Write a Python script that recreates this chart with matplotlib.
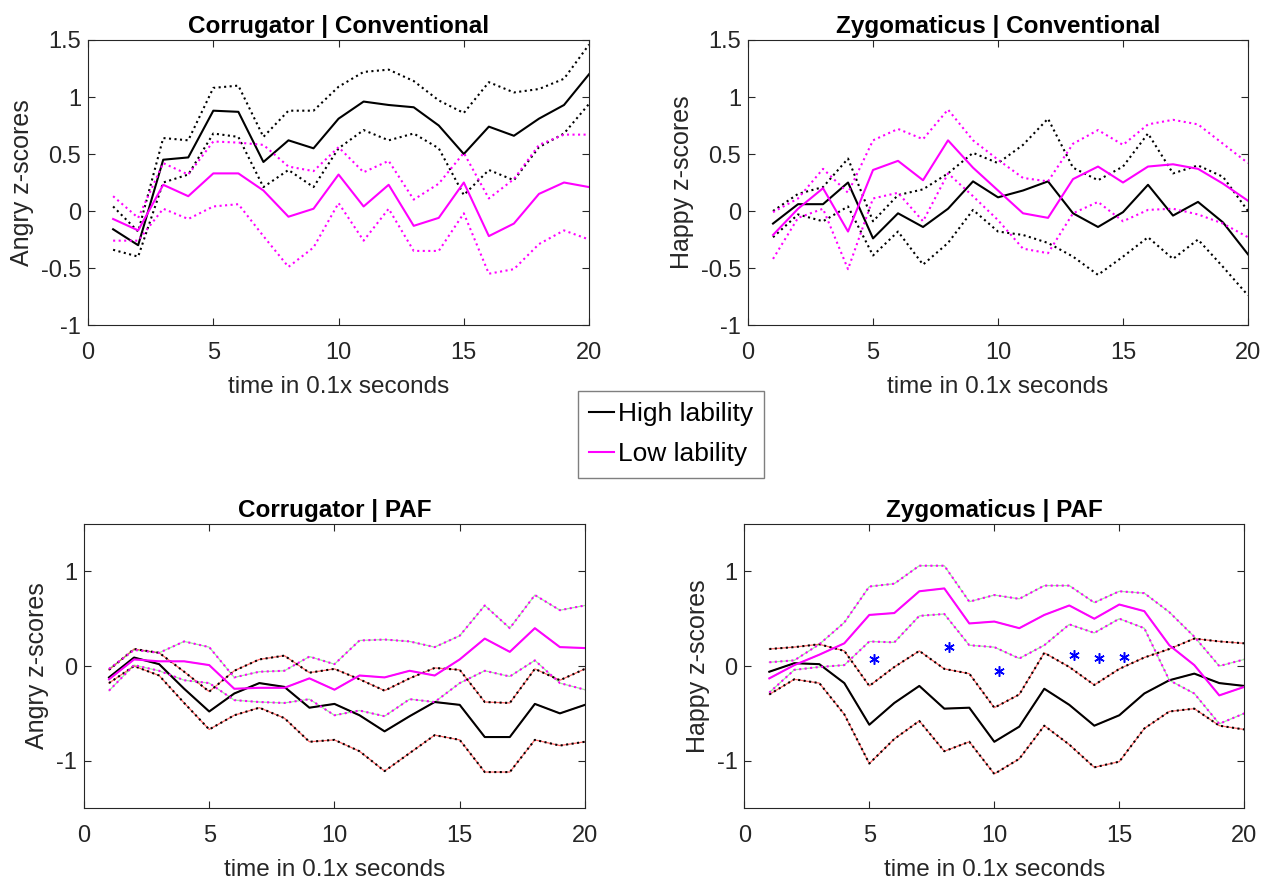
import matplotlib.pyplot as plt
import numpy as np

plt.rcParams['font.family'] = ['Liberation Sans', 'DejaVu Sans']
plt.rcParams['axes.unicode_minus'] = False

t = np.arange(1, 21)

# Corrugator | Conventional
cc_high = [-0.16, -0.30, 0.45, 0.47, 0.88, 0.87, 0.43, 0.62, 0.55, 0.81,
           0.96, 0.93, 0.91, 0.75, 0.50, 0.74, 0.66, 0.81, 0.93, 1.20]
cc_high_up = [0.04, -0.18, 0.64, 0.62, 1.08, 1.10, 0.65, 0.88, 0.88, 1.09,
              1.22, 1.24, 1.14, 0.97, 0.86, 1.13, 1.04, 1.07, 1.16, 1.46]
cc_high_lo = [-0.34, -0.40, 0.25, 0.32, 0.68, 0.65, 0.21, 0.36, 0.21, 0.55,
              0.71, 0.62, 0.68, 0.55, 0.14, 0.36, 0.27, 0.56, 0.68, 0.94]
cc_low = [-0.07, -0.17, 0.23, 0.13, 0.33, 0.33, 0.18, -0.05, 0.02, 0.32,
          0.04, 0.23, -0.13, -0.06, 0.25, -0.22, -0.11, 0.15, 0.25, 0.21]
cc_low_up = [0.13, -0.06, 0.42, 0.32, 0.61, 0.60, 0.58, 0.39, 0.35, 0.56,
             0.34, 0.44, 0.10, 0.24, 0.51, 0.11, 0.28, 0.58, 0.67, 0.67]
cc_low_lo = [-0.26, -0.26, 0.02, -0.07, 0.04, 0.06, -0.22, -0.49, -0.32, 0.07,
             -0.26, 0.02, -0.35, -0.35, -0.02, -0.55, -0.51, -0.29, -0.17, -0.25]

# Zygomaticus | Conventional
zc_high = [-0.11, 0.06, 0.06, 0.25, -0.24, -0.02, -0.14, 0.02, 0.26, 0.12,
           0.18, 0.26, -0.02, -0.14, -0.01, 0.23, -0.04, 0.08, -0.10, -0.38]
zc_high_up = [0.00, 0.15, 0.21, 0.46, -0.09, 0.14, 0.19, 0.33, 0.51, 0.42,
              0.58, 0.81, 0.38, 0.27, 0.39, 0.68, 0.33, 0.40, 0.30, 0.00]
zc_high_lo = [-0.23, -0.03, -0.09, 0.04, -0.39, -0.18, -0.47, -0.28, 0.01, -0.18,
              -0.21, -0.28, -0.40, -0.56, -0.40, -0.23, -0.42, -0.25, -0.49, -0.74]
zc_low = [-0.21, 0.02, 0.20, -0.18, 0.36, 0.44, 0.27, 0.62, 0.38, 0.18,
          -0.02, -0.06, 0.28, 0.39, 0.25, 0.39, 0.41, 0.37, 0.24, 0.09]
zc_low_up = [-0.01, 0.11, 0.37, 0.16, 0.62, 0.72, 0.63, 0.89, 0.62, 0.45,
             0.29, 0.26, 0.59, 0.71, 0.58, 0.76, 0.80, 0.76, 0.59, 0.42]
zc_low_lo = [-0.42, -0.06, 0.02, -0.51, 0.11, 0.16, -0.09, 0.33, 0.13, -0.08,
             -0.33, -0.37, -0.02, 0.08, -0.09, 0.01, 0.02, -0.03, -0.11, -0.23]

# Corrugator | PAF
cp_high = [-0.12, 0.09, 0.02, -0.24, -0.48, -0.29, -0.18, -0.22, -0.44, -0.40,
           -0.52, -0.69, -0.53, -0.38, -0.41, -0.75, -0.75, -0.40, -0.50, -0.41]
cp_high_up = [-0.04, 0.18, 0.14, -0.06, -0.27, -0.05, 0.07, 0.11, -0.07, -0.03,
              -0.14, -0.26, -0.13, -0.02, -0.04, -0.38, -0.39, -0.03, -0.15, -0.03]
cp_high_lo = [-0.18, 0.00, -0.10, -0.39, -0.67, -0.52, -0.44, -0.55, -0.80, -0.78,
              -0.90, -1.11, -0.92, -0.73, -0.78, -1.12, -1.12, -0.78, -0.84, -0.80]
cp_low = [-0.14, 0.07, 0.05, 0.05, 0.01, -0.24, -0.23, -0.23, -0.13, -0.25,
          -0.10, -0.12, -0.05, -0.10, 0.07, 0.29, 0.15, 0.40, 0.20, 0.19]
cp_low_up = [-0.03, 0.17, 0.14, 0.26, 0.20, -0.12, -0.06, -0.05, 0.10, 0.02,
             0.27, 0.28, 0.26, 0.20, 0.32, 0.64, 0.40, 0.75, 0.59, 0.64]
cp_low_lo = [-0.26, 0.01, -0.05, -0.15, -0.18, -0.36, -0.38, -0.39, -0.35, -0.52,
             -0.47, -0.53, -0.35, -0.38, -0.18, -0.05, -0.11, 0.06, -0.18, -0.25]

# Zygomaticus | PAF
zp_high = [-0.06, 0.03, 0.02, -0.18, -0.62, -0.39, -0.21, -0.45, -0.44, -0.80,
           -0.64, -0.24, -0.41, -0.63, -0.52, -0.29, -0.15, -0.08, -0.18, -0.21]
zp_high_up = [0.18, 0.20, 0.23, 0.16, -0.21, -0.01, 0.16, -0.03, -0.08, -0.44,
              -0.30, 0.14, -0.01, -0.20, -0.03, 0.09, 0.18, 0.29, 0.26, 0.24]
zp_high_lo = [-0.30, -0.14, -0.18, -0.51, -1.03, -0.77, -0.58, -0.90, -0.80, -1.14,
              -0.98, -0.63, -0.83, -1.07, -1.01, -0.66, -0.48, -0.45, -0.63, -0.67]
zp_low = [-0.13, 0.01, 0.12, 0.24, 0.54, 0.56, 0.79, 0.82, 0.45, 0.47,
          0.40, 0.54, 0.64, 0.50, 0.65, 0.58, 0.22, 0.01, -0.31, -0.22]
zp_low_up = [0.04, 0.06, 0.23, 0.46, 0.84, 0.87, 1.06, 1.06, 0.68, 0.75,
             0.71, 0.85, 0.85, 0.67, 0.79, 0.77, 0.57, 0.31, 0.00, 0.07]
zp_low_lo = [-0.28, -0.04, -0.01, 0.01, 0.26, 0.25, 0.53, 0.55, 0.22, 0.20,
             0.08, 0.22, 0.44, 0.35, 0.50, 0.40, -0.15, -0.29, -0.61, -0.50]
star_x = [5.2, 8.2, 10.2, 13.2, 14.2, 15.2]
star_y = [0.07, 0.20, -0.05, 0.12, 0.09, 0.10]

titles = ['Corrugator | Conventional', 'Zygomaticus | Conventional',
          'Corrugator | PAF', 'Zygomaticus | PAF']
ylabels = ['Angry z-scores', 'Happy z-scores', 'Angry z-scores', 'Happy z-scores']
data = [(cc_high, cc_high_up, cc_high_lo, cc_low, cc_low_up, cc_low_lo),
        (zc_high, zc_high_up, zc_high_lo, zc_low, zc_low_up, zc_low_lo),
        (cp_high, cp_high_up, cp_high_lo, cp_low, cp_low_up, cp_low_lo),
        (zp_high, zp_high_up, zp_high_lo, zp_low, zp_low_up, zp_low_lo)]
positions = [[0.0688, 0.6319, 0.3914, 0.3228],
             [0.5844, 0.6319, 0.3906, 0.3228],
             [0.0656, 0.0849, 0.3914, 0.3216],
             [0.5815, 0.0849, 0.3906, 0.3216]]

txt = '#262626'
mag = '#ff00ff'

fig = plt.figure(figsize=(12.8, 8.83), dpi=100)
for i in range(4):
    ax = fig.add_axes(positions[i])
    hi, hi_u, hi_l, lo, lo_u, lo_l = data[i]
    paf = i >= 2
    if paf:
        # faint coloured edges under the PAF curves
        for s in (hi, hi_u, hi_l):
            ax.plot(t, s, color='red', lw=0.9, alpha=0.6)
        for s in (lo, lo_u, lo_l):
            ax.plot(t, s, color='#00dd00', lw=0.9, alpha=0.4)
    l1, = ax.plot(t, hi, color='black', lw=1.5)
    ax.plot(t, hi_u, color='black', lw=1.5, ls=':')
    ax.plot(t, hi_l, color='black', lw=1.5, ls=':')
    l2, = ax.plot(t, lo, color=mag, lw=1.5)
    ax.plot(t, lo_u, color=mag, lw=1.5, ls=':')
    ax.plot(t, lo_l, color=mag, lw=1.5, ls=':')
    if i == 3:
        ax.plot(star_x, star_y, ls='none', marker=(6, 2, 0), color='blue',
                markersize=7.5, markeredgewidth=1.1)
    ax.set_xlim(0, 20)
    ax.set_xticks([0, 5, 10, 15, 20])
    if paf:
        ax.set_ylim(-1.5, 1.5)
        ax.set_yticks([-1, 0, 1])
    else:
        ax.set_ylim(-1, 1.5)
        ax.set_yticks([-1, -0.5, 0, 0.5, 1, 1.5])
        ax.set_yticklabels(['-1', '-0.5', '0', '0.5', '1', '1.5'])
    ax.set_title(titles[i], fontsize=17.5, fontweight='bold', color='black', pad=5)
    ax.set_xlabel('time in 0.1x seconds', fontsize=17.5, color=txt, labelpad=9)
    ax.set_ylabel(ylabels[i], fontsize=18, color=txt, labelpad=5)
    ax.tick_params(direction='in', top=True, right=True, labelsize=17,
                   colors=txt, length=5, width=0.8)
    ax.tick_params(axis='x', pad=12)
    ax.tick_params(axis='y', pad=5)
    for sp in ax.spines.values():
        sp.set_color(txt)
        sp.set_linewidth(0.8)

fig.legend([l1, l2], ['High lability', 'Low lability'], loc='upper left',
           bbox_to_anchor=(578 / 1280, 1 - 391 / 883), fontsize=19,
           frameon=True, fancybox=False, edgecolor='#7f7f7f', framealpha=1,
           handlelength=0.95, handletextpad=0.15, borderpad=0.42,
           labelspacing=0.62, borderaxespad=0)

fig.savefig('out.png', dpi=100)
